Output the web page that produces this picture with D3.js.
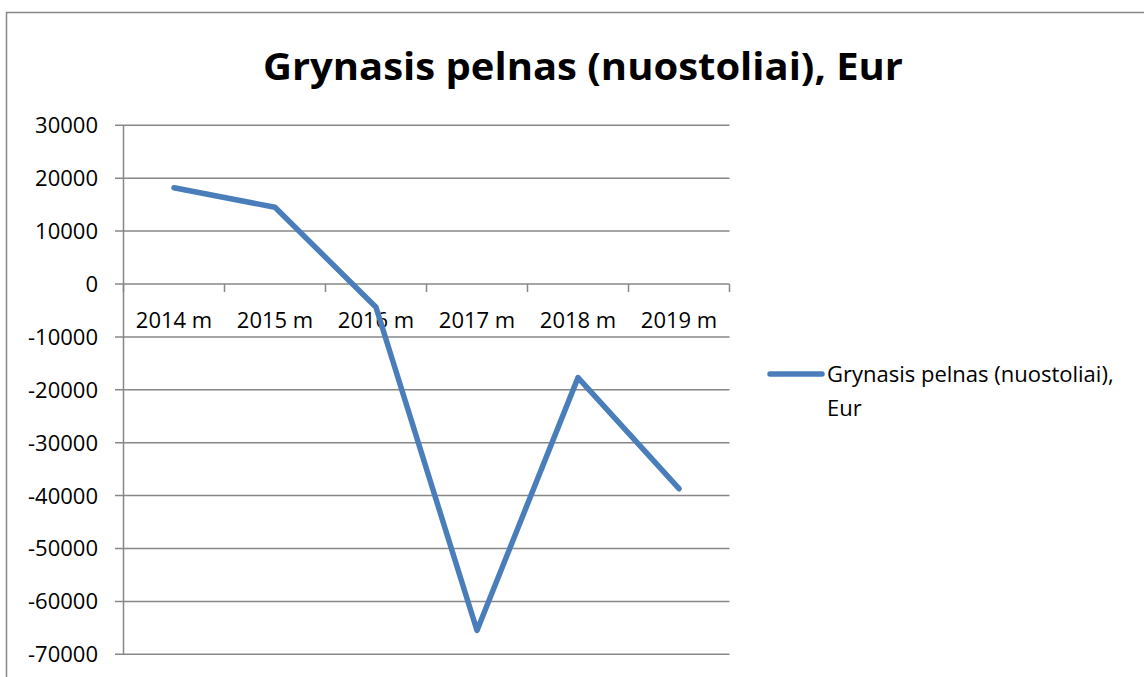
<!DOCTYPE html>
<html>
<head>
<meta charset="utf-8">
<script src="https://cdn.jsdelivr.net/npm/d3@7"></script>
<style>
  body { margin: 0; background: #fff; }
  text { font-family: "Open Sans", "Noto Sans", sans-serif; fill: #000; }
</style>
</head>
<body>
<svg width="1144" height="677"></svg>
<script>
const categories = ['2014 m', '2015 m', '2016 m', '2017 m', '2018 m', '2019 m'];
const values = [18200, 14500, -4400, -65500, -17700, -38700];
const yTicks = [30000, 20000, 10000, 0, -10000, -20000, -30000, -40000, -50000, -60000, -70000];
const seriesName = ['Grynasis pelnas (nuostoliai),', 'Eur'];
const title = 'Grynasis pelnas (nuostoliai), Eur';

const svg = d3.select('svg');
const grid = '#878787';
const blue = '#4a7ebb';
const fs = 22;

// chart area border
svg.append('rect')
  .attr('x', 6.5).attr('y', 12.5)
  .attr('width', 1150).attr('height', 700)
  .attr('fill', 'none')
  .attr('stroke', grid)
  .attr('stroke-width', 1.5);

const x = d3.scaleBand().domain(categories).range([123.5, 729.5]);
const y = d3.scaleLinear().domain([-70000, 30000]).range([654.3, 125.3]);

// horizontal gridlines
svg.append('g')
  .selectAll('line')
  .data(yTicks)
  .enter()
  .append('line')
  .attr('x1', 115).attr('x2', 729.5)
  .attr('y1', d => y(d)).attr('y2', d => y(d))
  .attr('stroke', grid)
  .attr('stroke-width', 1.5);

// y axis
svg.append('line')
  .attr('x1', 123.5).attr('x2', 123.5)
  .attr('y1', y(30000)).attr('y2', y(-70000))
  .attr('stroke', grid).attr('stroke-width', 1.5);

svg.append('g')
  .selectAll('text')
  .data(yTicks)
  .enter()
  .append('text')
  .attr('x', 98)
  .attr('y', d => y(d))
  .attr('dy', '0.36em')
  .attr('text-anchor', 'end')
  .attr('font-size', fs)
  .text(d => d);

// category axis on zero line
const xAxis = svg.append('g')
  .attr('transform', `translate(0,${y(0)})`)
  .call(d3.axisBottom(x).tickSize(0).tickFormat(d => d));
xAxis.select('.domain').remove();
xAxis.selectAll('text')
  .attr('font-size', fs)
  .attr('font-family', '"Open Sans", sans-serif')
  .attr('dy', 0)
  .attr('y', 44);

svg.append('g')
  .selectAll('line')
  .data(categories.concat(['end']))
  .enter()
  .append('line')
  .attr('x1', (d, i) => 123.5 + i * x.bandwidth())
  .attr('x2', (d, i) => 123.5 + i * x.bandwidth())
  .attr('y1', y(0)).attr('y2', y(0) + 8)
  .attr('stroke', grid).attr('stroke-width', 1.5);

// series line
const line = d3.line()
  .x((d, i) => x(categories[i]) + x.bandwidth() / 2)
  .y(d => y(d));

svg.append('path')
  .datum(values)
  .attr('d', line)
  .attr('fill', 'none')
  .attr('stroke', blue)
  .attr('stroke-width', 5.5)
  .attr('stroke-linejoin', 'round')
  .attr('stroke-linecap', 'round');

// title
svg.append('text')
  .attr('x', 583)
  .attr('y', 80)
  .attr('text-anchor', 'middle')
  .attr('font-size', 38)
  .attr('font-weight', 'bold')
  .attr('textLength', 640)
  .attr('lengthAdjust', 'spacingAndGlyphs')
  .text(title);

// legend
svg.append('line')
  .attr('x1', 770).attr('x2', 822)
  .attr('y1', 374).attr('y2', 374)
  .attr('stroke', blue)
  .attr('stroke-width', 5.5)
  .attr('stroke-linecap', 'round');

svg.append('g')
  .selectAll('text')
  .data(seriesName)
  .enter()
  .append('text')
  .attr('x', 827)
  .attr('y', (d, i) => 382 + i * 34)
  .attr('font-size', fs)
  .text(d => d);
</script>
</body>
</html>
